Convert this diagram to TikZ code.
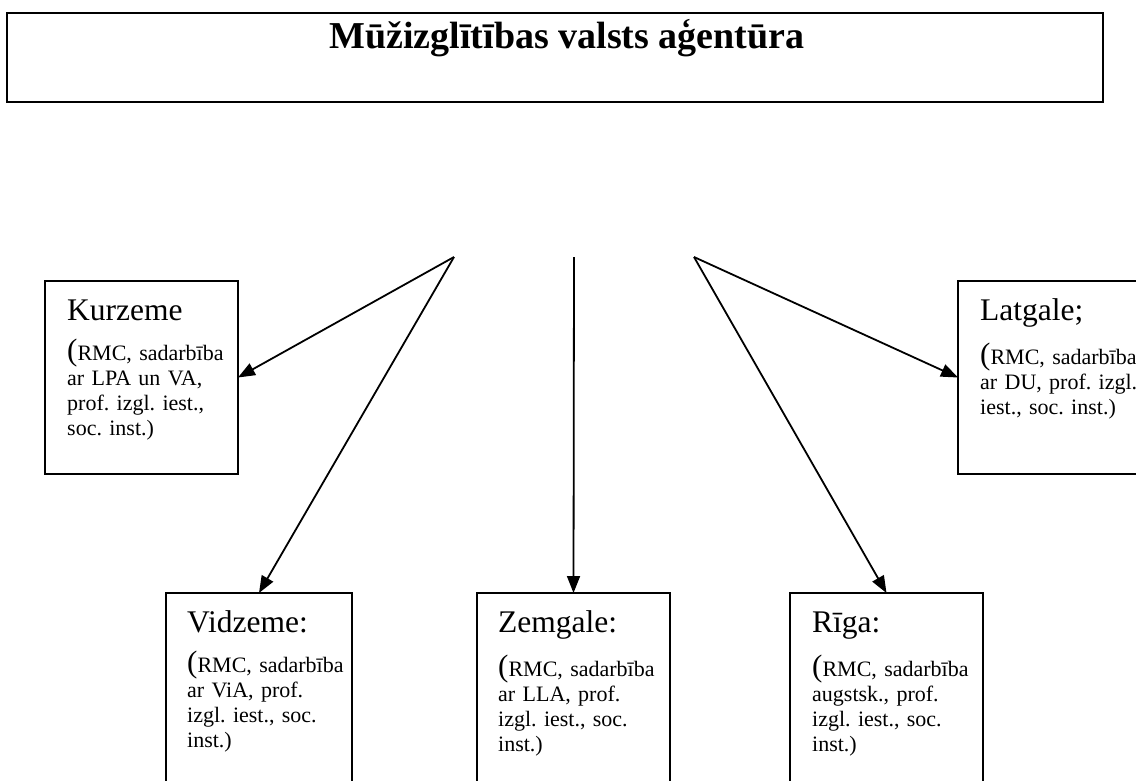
\documentclass[tikz,border=0pt]{standalone}
\usepackage{fontspec}
\setmainfont{Liberation Serif}
\usetikzlibrary{arrows.meta}
\frenchspacing
\begin{document}
\begin{tikzpicture}[x=1pt,y=-1pt,
  frame/.style={draw, line width=1.6pt, rectangle, anchor=north west, inner sep=0pt, outer sep=0pt},
  txt/.style={anchor=base west, inner sep=0pt, align=left, text width=190pt, font=\fontsize{22}{25}\selectfont\frenchspacing},
  arr/.style={line width=1.8pt, -{Triangle[length=17pt,width=13pt]}}]
\newcommand{\hd}[1]{{\fontsize{31.5}{31}\selectfont #1}\\[15pt]}
\newcommand{\lp}{{\fontsize{31}{31}\selectfont(}}
\useasboundingbox (0,0) rectangle (1136,780);
% top box
\node[frame, line width=2.7pt, minimum width=1096pt, minimum height=89pt] (top) at (7,13) {};
\node[anchor=base, inner sep=0pt, font=\fontsize{38}{38}\selectfont\bfseries] (title) at (567,48) {Mūžizglītības valsts aģentūra};
% boxes
\node[frame, minimum width=193pt, minimum height=193pt] (kurz) at (45,281) {};
\node[frame, minimum width=193pt, minimum height=193pt] (latg) at (958,281) {};
\node[frame, minimum width=186pt, minimum height=200pt] (vidz) at (166,593) {};
\node[frame, minimum width=193pt, minimum height=200pt] (zemg) at (477,593) {};
\node[frame, minimum width=193pt, minimum height=200pt] (riga) at (790,593) {};
% texts
\node[txt] (kurzT) at (67,320) {\hd{Kurzeme}\lp RMC, sadarbība\\ar LPA un VA,\\prof. izgl. iest.,\\soc. inst.)};
\node[txt] (latgT) at (980,320) {\hd{Latgale;}\lp RMC, sadarbība\\ar DU,\ prof. izgl.\\iest., soc. inst.)};
\node[txt] (vidzT) at (187,632) {\hd{Vidzeme:}\lp RMC, sadarbība\\ar ViA,\ prof.\\izgl. iest., soc.\\inst.)};
\node[txt] (zemgT) at (498,632) {\hd{Zemgale:}\lp RMC, sadarbība\\ar LLA,\ prof.\\izgl. iest., soc.\\inst.)};
\node[txt] (rigaT) at (812,632) {\hd{Rīga:}\lp RMC, sadarbība\\augstsk., prof.\\izgl. iest., soc.\\inst.)};
% sources
\coordinate (s1) at (454,257);
\coordinate (s2) at (574,257);
\coordinate (s3) at (694,257);
% connectors
\draw[arr] (s1) -- (kurz.east);
\draw[arr] (s1) -- (vidz.north);
\draw[arr] (s2) -- (zemg.north);
\draw[arr] (s3) -- (riga.north);
\draw[arr] (s3) -- (latg.west);
\end{tikzpicture}
\end{document}
